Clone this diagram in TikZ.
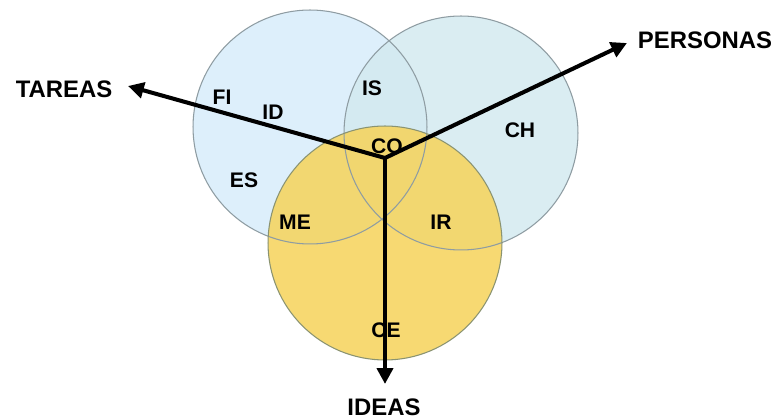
\documentclass[tikz,border=0pt]{standalone}
\usepackage{fontspec}
\setmainfont{Liberation Sans}
\usepackage{xcolor}
\usetikzlibrary{arrows.meta}

\definecolor{tareasblue}{HTML}{DDEFFB}
\definecolor{personasblue}{HTML}{D3EAF0}
\definecolor{ideasyellow}{HTML}{F6D45E}
\definecolor{rimgray}{HTML}{8E9CA2}

\tikzset{
    axis/.style={-{Triangle[length=9pt,width=9pt]}, line width=2.3pt, black},
    axislabel/.style={font=\fontsize{13.6}{16}\selectfont\bfseries},
    zone/.style={font=\fontsize{12}{14}\selectfont\bfseries, inner sep=0pt}
}

\begin{document}
\begin{tikzpicture}[x=0.02cm, y=-0.02cm]
    \useasboundingbox (0,0) rectangle (779,418);

    % Circles (fills first, then rims)
    \fill[tareasblue] (310,127) circle[radius=2.34cm];
    \fill[personasblue, opacity=0.85] (461,133) circle[radius=2.34cm];
    \fill[ideasyellow, opacity=0.88] (385,243) circle[radius=2.34cm];
    \draw[rimgray, line width=0.6pt] (310,127) circle[radius=2.34cm];
    \draw[rimgray, line width=0.6pt] (461,133) circle[radius=2.34cm];
    \draw[rimgray!70!olive, line width=0.6pt] (385,243) circle[radius=2.34cm];

    % Zone labels
    \node[zone] (fi) at (222,97) {FI};
    \node[zone] (id) at (273,112) {ID};
    \node[zone] (is) at (372,88) {IS};
    \node[zone] (co) at (387,146) {CO};
    \node[zone] (ch) at (520,130) {CH};
    \node[zone] (es) at (244,180) {ES};
    \node[zone] (me) at (295,222) {ME};
    \node[zone] (ir) at (441,222) {IR};
    \node[zone] (ce) at (386,330) {CE};

    % Axis labels
    \node[axislabel] (tareas) at (64,89) {TAREAS};
    \node[axislabel] (personas) at (705,40) {PERSONAS};
    \node[axislabel] (ideas) at (384,407) {IDEAS};

    % Axes from the common centre
    \coordinate (centre) at (385,158);
    \coordinate (tareastip) at (128,86);
    \coordinate (personastip) at (627,43);
    \coordinate (ideastip) at (385,384);
    \draw[axis] (centre) -- (tareastip);
    \draw[axis] (centre) -- (personastip);
    \draw[axis] (centre) -- (ideastip);

\end{tikzpicture}
\end{document}
